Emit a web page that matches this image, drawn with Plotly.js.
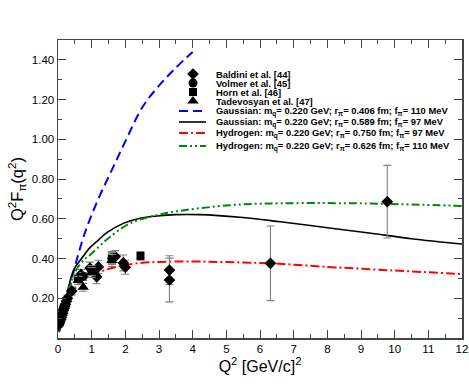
<!DOCTYPE html>
<html><head><meta charset="utf-8">
<script src="https://cdn.plot.ly/plotly-3.0.1.min.js"></script>
<style>html,body{margin:0;padding:0;background:#fff}#plot{width:469px;height:384px}</style>
</head><body><div id="plot"></div>
<script>
// ---- data ----
const baldiniX = [0.02,0.04,0.06,0.08,0.10,0.12,0.14,0.16,0.18,0.20,0.22,0.25,0.28,0.41,0.68,0.95,1.15,1.20,1.70,1.94,2.00,3.31,3.31,6.31,9.78];
const baldiniY = [0.065,0.075,0.085,0.095,0.105,0.115,0.125,0.14,0.15,0.16,0.17,0.185,0.20,0.237,0.32,0.352,0.308,0.358,0.41,0.378,0.356,0.342,0.292,0.376,0.686];
const baldiniE = [0.01,0.01,0.01,0.01,0.01,0.012,0.012,0.012,0.014,0.014,0.015,0.015,0.016,0.02,0.025,0.03,0.035,0.033,0.03,0.04,0.035,0.072,0.11,0.188,0.183];
const volmerX = [0.60,0.75,1.00,1.60];
const volmerY = [0.30,0.31,0.34,0.40];
const volmerE = [0.02,0.02,0.025,0.03];
const hornX = [1.60,2.45];
const hornY = [0.405,0.413];
const hornE = [0.03,0.022];
const tadX = [0.60,0.75,1.00,1.60];
const tadY = [0.29,0.255,0.33,0.39];
const tadE = [0.02,0.02,0.025,0.03];

const gaus1X = [0.03,0.2,0.4,0.6,0.8,1.0,1.25,1.5,1.75,2.0,2.5,3.0,3.5,4.0];
const gaus1Y = [0.03,0.15,0.29,0.42,0.53,0.62,0.72,0.81,0.90,0.99,1.16,1.27,1.36,1.44];
const gaus2X = [0.03,0.2,0.46,0.7,0.95,1.2,1.45,1.94,2.44,2.94,3.5,4.2,5.4,6.6,8,9.3,10.5,12];
const gaus2Y = [0.03,0.17,0.34,0.40,0.455,0.493,0.53,0.577,0.603,0.614,0.621,0.621,0.608,0.585,0.555,0.527,0.50,0.473];
const hyd1X = [0.03,0.2,0.36,0.6,0.75,0.95,1.25,1.75,2.3,3.0,4.0,5.0,6.3,8,9.3,10.5,12];
const hyd1Y = [0.03,0.13,0.208,0.27,0.292,0.317,0.334,0.359,0.375,0.383,0.385,0.382,0.376,0.358,0.346,0.335,0.322];
const hyd2X = [0.03,0.2,0.5,0.75,0.95,1.25,1.55,2.14,2.94,3.5,4.2,5.4,6.6,8,9.3,10.5,12];
const hyd2Y = [0.03,0.16,0.33,0.39,0.418,0.465,0.51,0.577,0.619,0.637,0.653,0.672,0.678,0.679,0.677,0.672,0.665];

const yTicks = [0.2,0.4,0.6,0.8,1.0,1.2,1.4];
const xTicks = [0,1,2,3,4,5,6,7,8,9,10,11,12];

const legendLabels = [
  'Baldini et al. [44]','Volmer et al. [45]','Horn et al. [46]','Tadevosyan et al. [47]',
  'Gaussian: m<sub>q</sub>= 0.220 GeV; r<sub>\u03c0</sub>= 0.406 fm; f<sub>\u03c0</sub>= 110 MeV',
  'Gaussian: m<sub>q</sub>= 0.220 GeV; r<sub>\u03c0</sub>= 0.589 fm; f<sub>\u03c0</sub>= 97 MeV',
  'Hydrogen: m<sub>q</sub>= 0.220 GeV; r<sub>\u03c0</sub>= 0.750 fm; f<sub>\u03c0</sub>= 97 MeV',
  'Hydrogen: m<sub>q</sub>= 0.220 GeV; r<sub>\u03c0</sub>= 0.626 fm; f<sub>\u03c0</sub>= 110 MeV'
];

// ---- styles ----
const FONT = 'Liberation Sans, Arial, Helvetica, sans-serif';
const errStyle = (arr) => ({type:'data', array:arr, visible:true, color:'#808080', thickness:1.1, width:4});
const mk = (sym, size) => ({symbol:sym, size:size, color:'#000'});

const curveStyles = [
  {color:'#0000ff', width:2, dash:'9px,5px'},
  {color:'#000000', width:1.6, dash:'solid'},
  {color:'#ff0000', width:2, dash:'9px,3px,2px,3px'},
  {color:'#008800', width:2, dash:'8px,3px,2px,3px,2px,3px'}
];

const traces = [];
const curvesX = [gaus1X,gaus2X,hyd1X,hyd2X];
const curvesY = [gaus1Y,gaus2Y,hyd1Y,hyd2Y];
for (let i=0;i<4;i++){
  traces.push({x:curvesX[i], y:curvesY[i], mode:'lines', line:Object.assign({shape:'spline', smoothing:1}, curveStyles[i]), showlegend:false, hoverinfo:'skip'});
}
traces.push({x:baldiniX, y:baldiniY, error_y:errStyle(baldiniE), mode:'markers', marker:mk('diamond',9), showlegend:false});
traces.push({x:volmerX, y:volmerY, error_y:errStyle(volmerE), mode:'markers', marker:mk('circle',9), showlegend:false});
traces.push({x:hornX, y:hornY, error_y:errStyle(hornE), mode:'markers', marker:mk('square',8), showlegend:false});
traces.push({x:tadX, y:tadY, error_y:errStyle(tadE), mode:'markers', marker:mk('triangle-up',10), showlegend:false});

// ---- custom compact legend on a pixel-coordinate overlay axis ----
const rowY = [74, 83, 92, 101, 111, 122, 133, 146];
const symX = 193, lineX0 = 179, lineX1 = 206, textX = 214;
const legSyms = [['diamond',9],['circle',9],['square',8],['triangle-up',10]];
for (let i=0;i<4;i++){
  traces.push({x:[symX], y:[rowY[i]], xaxis:'x2', yaxis:'y2', mode:'markers', marker:mk(legSyms[i][0], legSyms[i][1]), showlegend:false, hoverinfo:'skip'});
}
for (let i=0;i<4;i++){
  traces.push({x:[lineX0,lineX1], y:[rowY[4+i],rowY[4+i]], xaxis:'x2', yaxis:'y2', mode:'lines', line:curveStyles[i], showlegend:false, hoverinfo:'skip'});
}
const annotations = legendLabels.map((t,i)=>({
  x:textX, y:rowY[i], xref:'x2', yref:'y2', xanchor:'left', yanchor:'middle', showarrow:false,
  text:'<b>'+t+'</b>', font:{family:FONT, size:9.4, color:'#000'}
}));

const axisCommon = {
  showgrid:false, zeroline:false, showline:true, linecolor:'#444', linewidth:1.5,
  mirror:'ticks', ticks:'inside', ticklen:8, tickwidth:1, tickcolor:'#444',
  tickfont:{family:FONT, size:11.5, color:'#000'}
};

const layout = {
  width:469, height:384,
  margin:{l:58, r:7, t:40, b:46},
  paper_bgcolor:'#fff', plot_bgcolor:'#fff',
  showlegend:false,
  xaxis: Object.assign({}, axisCommon, {
    range:[0,12], tickvals:xTicks, ticktext:xTicks.map(String),
    minor:{dtick:0.5, ticks:'inside', ticklen:4, tickcolor:'#444', showgrid:false},
    title:{text:'Q<sup>2</sup> [GeV/c]<sup>2</sup>', font:{family:FONT, size:16, color:'#000'}, standoff:6}
  }),
  yaxis: Object.assign({}, axisCommon, {
    range:[0,1.5], tickvals:yTicks, ticktext:yTicks.map(v=>v.toFixed(2)),
    minor:{dtick:0.1, ticks:'inside', ticklen:4, tickcolor:'#444', showgrid:false},
    title:{text:'Q<sup>2</sup>F<sub>\u03c0</sub>(q<sup>2</sup>)', font:{family:FONT, size:16.5, color:'#000'}, standoff:4}
  }),
  xaxis2:{overlaying:'x', range:[58,462], visible:false, fixedrange:true},
  yaxis2:{overlaying:'y', range:[338,40], visible:false, fixedrange:true},
  annotations: annotations
};

Plotly.newPlot('plot', traces, layout, {staticPlot:true, displayModeBar:false});
</script>
</body></html>
